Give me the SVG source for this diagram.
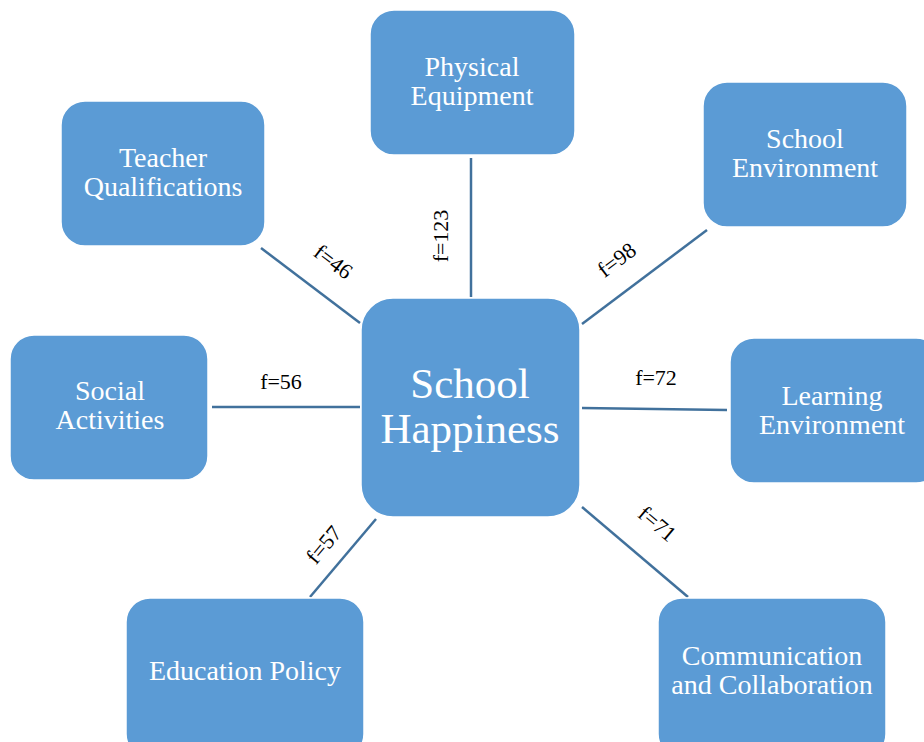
<svg xmlns="http://www.w3.org/2000/svg" width="924" height="742" viewBox="0 0 924 742">
<style>
.box{fill:#5b9bd5;stroke:#ffffff;stroke-width:1.5}
.t{font-family:"Liberation Serif","Times New Roman",serif;font-size:28px;fill:#ffffff;text-anchor:middle}
.big{font-size:43px}
.c line{stroke:#41719c;stroke-width:2.5}
.lab{font-family:"Liberation Serif","Times New Roman",serif;font-size:22px;fill:#000000;text-anchor:middle}
</style>
<rect width="924" height="742" fill="#ffffff"/>
<g class="c" id="connectors">
<line x1="261" y1="248" x2="360" y2="323"/>
<line x1="471" y1="158" x2="471" y2="297"/>
<line x1="707" y1="230" x2="582" y2="324"/>
<line x1="212" y1="407" x2="360" y2="407"/>
<line x1="582" y1="408" x2="727" y2="410"/>
<line x1="376" y1="519" x2="310" y2="597"/>
<line x1="582" y1="507" x2="688" y2="597"/>
<text class="lab" transform="translate(333,262) rotate(37)" dy="7">f=46</text>
<text class="lab" transform="translate(441,236) rotate(-90)" dy="7">f=123</text>
<text class="lab" transform="translate(617,260) rotate(-37)" dy="7">f=98</text>
<text class="lab" x="281" y="389">f=56</text>
<text class="lab" x="656" y="385">f=72</text>
<text class="lab" transform="translate(657,524) rotate(40)" dy="7">f=71</text>
<text class="lab" transform="translate(324,545) rotate(-50)" dy="7">f=57</text>
</g>
<g id="center">
<rect class="box" x="361" y="298" width="219" height="219" rx="32"/>
<text class="t big" x="470" y="398">School</text>
<text class="t big" x="470" y="443">Happiness</text>
</g>
<g id="physical">
<rect class="box" x="370" y="10" width="205" height="145" rx="24"/>
<text class="t" x="472" y="76">Physical</text>
<text class="t" x="472" y="105">Equipment</text>
</g>
<g id="teacher">
<rect class="box" x="61" y="101" width="204" height="145" rx="24"/>
<text class="t" x="163" y="167">Teacher</text>
<text class="t" x="163" y="196">Qualifications</text>
</g>
<g id="schoolenv">
<rect class="box" x="703" y="82" width="204" height="145" rx="24"/>
<text class="t" x="805" y="148">School</text>
<text class="t" x="805" y="177">Environment</text>
</g>
<g id="social">
<rect class="box" x="10" y="335" width="198" height="145" rx="24"/>
<text class="t" x="110" y="400">Social</text>
<text class="t" x="110" y="429">Activities</text>
</g>
<g id="learning">
<rect class="box" x="730" y="338" width="210" height="145" rx="24"/>
<text class="t" x="832" y="405">Learning</text>
<text class="t" x="832" y="434">Environment</text>
</g>
<g id="policy">
<rect class="box" x="126" y="598" width="238" height="160" rx="24"/>
<text class="t" x="245" y="680">Education Policy</text>
</g>
<g id="communication">
<rect class="box" x="658" y="598" width="228" height="160" rx="24"/>
<text class="t" x="772" y="665">Communication</text>
<text class="t" x="772" y="694">and Collaboration</text>
</g>
</svg>
